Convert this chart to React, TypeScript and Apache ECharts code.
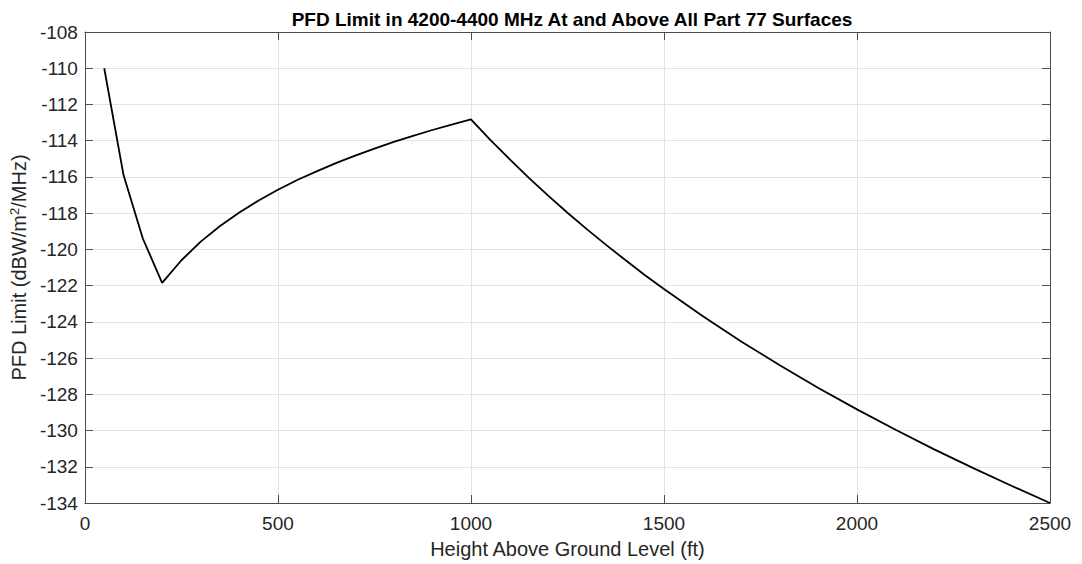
import React, { useEffect, useRef } from "react";
import * as echarts from "echarts";

const heightsFt = [
  50, 100, 150, 200, 250, 300, 350, 400, 450, 500, 550, 600, 650, 700, 750, 800,
  850, 900, 950, 1000, 1050, 1100, 1150, 1200, 1250, 1300, 1350, 1400, 1450,
  1500, 1600, 1700, 1800, 1900, 2000, 2100, 2200, 2300, 2400, 2500,
];
const pfdLimit = [
  -110.0, -115.9, -119.4, -121.85, -120.6, -119.57, -118.71, -117.96, -117.3,
  -116.71, -116.17, -115.69, -115.24, -114.82, -114.44, -114.07, -113.73,
  -113.41, -113.11, -112.82, -113.95, -115.02, -116.05, -117.03, -117.98,
  -118.88, -119.75, -120.59, -121.41, -122.19, -123.68, -125.08, -126.4,
  -127.65, -128.83, -129.96, -131.04, -132.06, -133.05, -134.0,
];
const xTicks = [0, 500, 1000, 1500, 2000, 2500];
const yTicks = [-134, -132, -130, -128, -126, -124, -122, -120, -118, -116, -114, -112, -110, -108];

const titleText = "PFD Limit in 4200-4400 MHz At and Above All Part 77 Surfaces";
const xName = "Height Above Ground Level (ft)";
const yName = "PFD Limit (dBW/m{sup|2}/MHz)";

const FONT = "'Liberation Sans', Arial, Helvetica, sans-serif";
const AXIS_COLOR = "#4d4d4d";
const TEXT_COLOR = "#262626";

export default function App() {
  const ref = useRef<HTMLDivElement>(null);
  useEffect(() => {
    if (!ref.current) return;
    document.body.style.margin = "0";
    const chart = echarts.init(ref.current, null, { renderer: "svg" });
    const xMin = xTicks[0];
    const xMax = xTicks[xTicks.length - 1];
    const yMin = yTicks[0];
    const yMax = yTicks[yTicks.length - 1];
    const common = {
      axisLine: { show: true, onZero: false, lineStyle: { color: AXIS_COLOR, width: 1 } },
      axisTick: { show: true, inside: true, length: 8, lineStyle: { color: AXIS_COLOR } },
    };
    chart.setOption({
      animation: false,
      backgroundColor: "#ffffff",
      textStyle: { fontFamily: FONT },
      title: {
        text: titleText,
        left: 567,
        textAlign: "center",
        top: 5,
        textStyle: { fontSize: 19, fontWeight: "bold", color: "#000", fontFamily: FONT },
      },
      grid: { left: 84, right: 32, top: 32, bottom: 61, containLabel: false },
      xAxis: [
        {
          type: "value",
          min: xMin,
          max: xMax,
          interval: 500,
          position: "bottom",
          name: xName,
          nameLocation: "middle",
          nameGap: 36,
          nameTextStyle: { fontSize: 20, color: TEXT_COLOR, fontFamily: FONT },
          ...common,
          axisLabel: {
            fontSize: 19,
            color: TEXT_COLOR,
            margin: 11,
            fontFamily: FONT,
            formatter: (v: number) => String(v),
          },
          splitLine: { show: true, lineStyle: { color: "#e3e3e3", width: 1 } },
        },
        {
          type: "value",
          min: xMin,
          max: xMax,
          interval: 500,
          position: "top",
          ...common,
          axisLabel: { show: false },
          splitLine: { show: false },
        },
      ],
      yAxis: [
        {
          type: "value",
          min: yMin,
          max: yMax,
          interval: 2,
          position: "left",
          name: yName,
          nameLocation: "middle",
          nameGap: 48,
          nameRotate: 90,
          nameTextStyle: {
            fontSize: 20,
            color: TEXT_COLOR,
            fontFamily: FONT,
            rich: {
              sup: { fontSize: 13, color: TEXT_COLOR, fontFamily: FONT, padding: [0, 0, 9, 0] },
            },
          },
          ...common,
          axisLabel: { fontSize: 19, color: TEXT_COLOR, margin: 7, fontFamily: FONT },
          splitLine: { show: true, lineStyle: { color: "#e3e3e3", width: 1 } },
        },
        {
          type: "value",
          min: yMin,
          max: yMax,
          interval: 2,
          position: "right",
          ...common,
          axisLabel: { show: false },
          splitLine: { show: false },
        },
      ],
      series: [
        {
          type: "line",
          data: heightsFt.map((h, i) => [h, pfdLimit[i]]),
          xAxisIndex: 0,
          yAxisIndex: 0,
          showSymbol: false,
          symbol: "none",
          lineStyle: { color: "#000000", width: 1.8 },
          smooth: false,
        },
      ],
    });
    return () => chart.dispose();
  }, []);
  return (
    <div
      ref={ref}
      style={{ position: "absolute", left: 0, top: 0, width: 1082, height: 564 }}
    />
  );
}
